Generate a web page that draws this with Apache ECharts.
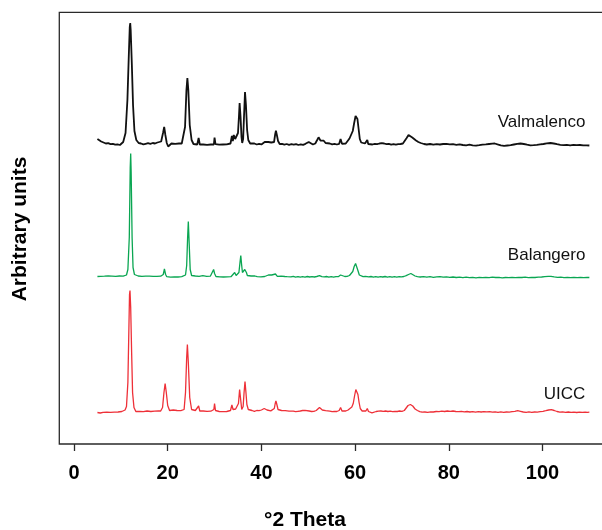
<!DOCTYPE html>
<html>
<head>
<meta charset="utf-8">
<script src="https://cdn.jsdelivr.net/npm/echarts@6.0.0/dist/echarts.min.js"></script>
<style>
html,body{margin:0;padding:0;background:#fff;overflow:hidden;}
#chart{width:602px;height:530px;}
</style>
</head>
<body>
<div id="chart"></div>
<script>
// X ticks (degrees 2-theta)
const xTicks = [0, 20, 40, 60, 80, 100];
const seriesNames = ['Valmalenco', 'Balangero', 'UICC'];

// Intensity (arbitrary units above each trace's baseline): [2theta, intensity]
const valmalenco = [
[5.0,6],[5.4,5],[5.8,3.5],[6.3,2.5],[6.8,1.5],[7.3,1.8],[7.8,0.8],[8.3,1.2],[8.8,0.3],[9.3,0.6],[9.8,0],[10.2,0.8],[10.5,3],[11.0,12],[11.4,45],[11.7,90],[11.9,118],[12.0,122],[12.1,115],[12.35,80],[12.6,40],[12.9,14],[13.3,5],[13.8,2],[14.3,1.5],[14.8,0.6],[15.3,1.2],[15.8,1.8],[16.3,1.2],[16.8,2],[17.3,1.5],[17.8,2.5],[18.2,2],[18.6,3.5],[19.0,12],[19.25,18],[19.5,10],[19.8,2],[20.1,-1.5],[20.4,0.5],[20.8,1.5],[21.2,0.5],[21.6,1.2],[22.0,0.3],[22.4,1.5],[22.8,0.8],[23.0,1.5],[23.3,3],[23.7,18],[24.0,55],[24.2,67],[24.4,55],[24.7,20],[25.1,5],[25.5,1],[25.9,1.5],[26.3,0.5],[26.6,7],[26.85,0.5],[27.2,1.8],[27.6,0.5],[28.0,1.2],[28.4,0.2],[28.8,1.5],[29.2,0.5],[29.6,1],[29.85,0.5],[30.0,7.3],[30.2,0.8],[30.6,1.5],[31.0,0.3],[31.4,1.2],[31.8,0.5],[32.2,1.5],[32.6,0.6],[33.0,1.3],[33.4,1.5],[33.7,9],[33.9,4],[34.1,10],[34.4,6],[34.7,8],[35.0,12],[35.2,28],[35.35,42],[35.55,28],[35.75,8],[35.9,2],[36.1,6],[36.3,30],[36.5,53],[36.7,40],[36.95,15],[37.2,5],[37.6,1.5],[38.0,0.8],[38.5,1.5],[39.0,0.5],[39.5,1.2],[40.0,0.6],[40.4,1.5],[40.7,3],[41.0,1.5],[41.5,3],[41.8,1.5],[42.1,2.5],[42.4,1.5],[42.7,3],[42.95,11],[43.1,14.3],[43.3,10],[43.55,4],[43.9,1],[44.4,1.2],[44.9,0.4],[45.4,1],[45.9,0.2],[46.4,0.8],[46.9,0.3],[47.4,0.9],[47.9,0],[48.4,0.6],[48.9,0.2],[49.4,1.2],[49.7,2.3],[50.1,3],[50.5,1],[51.0,0.5],[51.5,1.5],[51.9,5],[52.2,7.7],[52.6,4.5],[52.9,3.5],[53.3,4.3],[53.7,2],[54.1,1],[54.6,1.5],[55.1,0.6],[55.6,1.2],[56.1,0.5],[56.6,1.2],[56.9,6],[57.2,1.2],[57.6,1.8],[58.0,1.5],[58.4,3],[58.8,6.5],[59.1,8.5],[59.5,14],[59.8,22],[60.1,29],[60.3,30],[60.5,26],[60.75,16],[61.0,6],[61.3,2.5],[61.7,1],[62.1,1.5],[62.4,2],[62.6,5],[62.8,1],[63.2,1.5],[63.7,0.5],[64.2,1.2],[64.7,0.8],[65.2,1.5],[65.7,1.8],[66.2,1.5],[66.7,0.8],[67.2,1.2],[67.7,0.4],[68.2,0.9],[68.7,0.3],[69.2,0.8],[69.7,1],[70.2,1.5],[70.6,3],[71.0,7],[71.4,10],[71.8,9],[72.2,7.5],[72.6,6],[73.0,4.5],[73.5,3],[74.0,2],[74.7,1],[75.3,0.5],[76.0,1],[76.7,0.3],[77.4,0.9],[78.1,0.5],[78.8,1],[79.5,1.2],[80.2,0.6],[80.9,0.8],[81.6,0.2],[82.3,0.7],[83.0,0],[83.7,-0.3],[84.4,0.3],[85.1,-0.4],[85.8,-0.6],[86.5,-0.2],[87.2,0.3],[87.9,0.6],[88.6,1],[89.3,1.3],[89.8,1.5],[90.4,0.6],[91.1,-0.4],[91.8,-0.8],[92.5,-0.5],[93.2,-0.2],[93.9,0.5],[94.6,1.2],[95.3,1.5],[96.0,1],[96.7,0.3],[97.4,-0.3],[98.1,-0.1],[98.8,0.2],[99.5,0.6],[100.2,1],[100.9,1.6],[101.7,2],[102.4,1.5],[103.1,0.8],[103.8,0.2],[104.5,-0.2],[105.2,0.1],[105.9,-0.3],[106.6,0.2],[107.3,-0.2],[108.0,0],[108.7,-0.4],[109.4,-0.3],[110.0,-0.5]
];

const balangero = [
[5.0,1],[5.3,0],[5.7,1.2],[6.1,0.4],[6.5,1.3],[6.9,0.6],[7.3,1.5],[7.7,0.8],[8.1,1.4],[8.5,0.5],[8.9,1.2],[9.3,0.8],[9.7,1.5],[10.1,0.7],[10.5,1.3],[10.8,1.5],[11.2,2.5],[11.5,8],[11.8,40],[12.0,110],[12.1,124],[12.2,105],[12.4,40],[12.6,10],[12.9,3],[13.3,1],[13.7,1.5],[14.1,0.6],[14.5,1.2],[14.9,0.5],[15.3,1.3],[15.7,0.8],[16.1,1.4],[16.5,0.7],[16.9,1.2],[17.3,0.5],[17.7,1.1],[18.1,0.7],[18.5,1.3],[18.8,1],[19.05,3],[19.3,8.5],[19.55,3],[19.8,0.8],[20.2,1.3],[20.6,0.4],[21.0,1.2],[21.4,0.6],[21.8,1.5],[22.2,0.5],[22.6,1.2],[23.0,0.8],[23.4,1.5],[23.8,2.5],[24.05,12],[24.25,40],[24.4,56],[24.55,38],[24.8,8],[25.1,2],[25.5,0.8],[25.9,1.5],[26.3,0.6],[26.7,1.2],[27.1,0.5],[27.5,1.8],[27.9,0.6],[28.3,1.2],[28.7,0.4],[29.1,1.3],[29.5,3],[29.8,8],[30.0,4],[30.3,1],[30.7,1.5],[31.1,0.6],[31.5,1.2],[31.9,0.5],[32.3,1.1],[32.7,0.6],[33.1,1.3],[33.5,0.8],[33.9,2],[34.3,5],[34.6,2],[34.9,2.5],[35.2,5],[35.45,16],[35.6,22],[35.75,14],[35.95,5],[36.2,3],[36.45,8],[36.6,10],[36.8,5],[37.0,2],[37.4,1],[37.8,1.5],[38.2,0.8],[38.6,1.5],[38.8,2.2],[39.1,0.8],[39.5,1.2],[39.9,0.6],[40.3,1.3],[40.7,1],[41.1,1.5],[41.5,2.5],[41.9,4],[42.2,2.5],[42.6,2],[43.0,3.5],[43.4,1.2],[43.8,1],[44.2,1.4],[44.6,0.5],[45.0,1],[45.5,0.8],[45.9,1.6],[46.3,0.6],[46.8,1.1],[47.3,0.4],[47.8,0.9],[48.3,0.3],[48.8,0.8],[49.3,0.4],[49.8,1],[50.3,0.5],[50.8,0.9],[51.3,0.5],[51.8,1],[52.4,1.8],[52.9,0.8],[53.4,0.6],[53.9,1],[54.4,0.4],[54.9,0.8],[55.4,0.3],[55.9,0.9],[56.4,0.8],[56.9,2.5],[57.3,0.6],[57.8,1],[58.3,1.2],[58.8,2],[59.2,3.5],[59.5,6],[59.8,11],[60.1,14],[60.35,12],[60.6,7],[60.9,2.5],[61.2,1],[61.7,0.8],[62.2,1.2],[62.6,3],[62.9,0.6],[63.4,1],[63.9,0.4],[64.4,0.9],[64.9,0.3],[65.4,0.8],[65.9,0.5],[66.4,1],[66.9,0.4],[67.4,0.8],[67.9,0.3],[68.4,0.9],[68.9,0.4],[69.4,0.8],[69.9,0.6],[70.4,1],[70.9,1.8],[71.4,3],[71.9,4],[72.3,3],[72.8,1.5],[73.3,0.8],[73.9,0.5],[74.6,0.9],[75.3,0.3],[76.0,0.8],[76.7,0.2],[77.4,0.7],[78.1,0.9],[78.8,0.4],[79.5,0.6],[80.2,0.1],[80.9,0.5],[81.6,0],[82.3,0.4],[83.0,-0.1],[83.7,0.3],[84.4,-0.2],[85.1,0.2],[85.8,-0.3],[86.5,0.1],[87.2,-0.2],[87.9,0.2],[88.6,-0.1],[89.3,0.3],[90.0,0],[90.7,0.2],[91.4,-0.3],[92.1,0],[92.8,-0.2],[93.5,0.1],[94.2,-0.2],[94.9,0.2],[95.6,0],[96.3,0.3],[97.0,-0.1],[97.7,0.2],[98.4,0],[99.1,0.3],[99.8,0.5],[100.5,0.8],[101.2,1.1],[101.8,1.2],[102.5,0.6],[103.2,0.2],[103.9,0.4],[104.6,-0.1],[105.3,0.2],[106.0,-0.2],[106.7,0.1],[107.4,-0.1],[108.1,0.2],[108.8,-0.1],[109.5,0.1],[110.0,0]
];

const uicc = [
[5.0,0],[5.3,1],[5.6,-0.5],[5.9,0.8],[6.2,0.2],[6.6,1],[7.0,0.3],[7.4,0.8],[7.8,0.2],[8.2,1],[8.6,0.4],[9.0,0.8],[9.4,0.5],[9.8,1.2],[10.2,1],[10.6,1.5],[10.9,2.5],[11.2,6],[11.5,30],[11.7,80],[11.85,118],[11.95,122],[12.1,105],[12.3,60],[12.5,20],[12.8,5],[13.2,1],[13.6,0.5],[14.0,1],[14.4,0.3],[14.8,0.9],[15.2,0.5],[15.6,1.5],[16.0,0.5],[16.4,1],[16.8,0.4],[17.2,1.3],[17.6,0.8],[18.0,1.5],[18.2,3],[18.5,1.5],[18.9,5],[19.2,20],[19.45,29],[19.7,20],[20.0,7],[20.4,2],[20.8,1.5],[21.2,2.5],[21.6,1.2],[22.0,2],[22.4,1.5],[22.8,1.8],[23.2,1.5],[23.5,3],[23.8,20],[24.05,55],[24.2,68],[24.4,50],[24.7,15],[25.1,3],[25.5,1.5],[25.9,2],[26.3,1],[26.6,6.5],[26.85,1.5],[27.2,2.5],[27.6,1.5],[28.0,2],[28.4,1.2],[28.8,1.8],[29.2,1.3],[29.6,1.8],[29.85,3],[30.0,9],[30.2,2],[30.6,1.5],[31.0,1],[31.4,1.6],[31.8,0.8],[32.2,1.4],[32.6,1],[33.0,1.6],[33.4,2],[33.7,7.5],[33.95,3],[34.2,5],[34.5,3.5],[34.8,4],[35.1,9],[35.35,23],[35.55,14],[35.8,3],[36.1,6],[36.3,20],[36.5,31],[36.7,20],[36.9,8],[37.2,3],[37.6,1.5],[38.0,2],[38.5,1.2],[39.0,2],[39.5,1.8],[40.0,2.5],[40.3,3],[40.6,4],[40.9,3],[41.2,2.5],[41.6,2],[42.0,1.6],[42.4,2],[42.75,4],[42.95,9],[43.1,11.5],[43.3,8],[43.55,3],[43.9,1.5],[44.3,2],[44.7,1.2],[45.1,1.8],[45.5,1],[45.9,1.4],[46.3,0.8],[46.8,1.3],[47.3,0.8],[47.8,1.2],[48.3,1.5],[48.8,2],[49.3,2.2],[49.7,2],[50.2,1.5],[50.7,1],[51.2,1.2],[51.7,2],[52.1,4],[52.4,5],[52.7,3],[53.0,2.5],[53.3,3],[53.7,1.8],[54.1,1],[54.6,1.3],[55.1,0.8],[55.6,1.2],[56.1,1],[56.6,2],[56.9,5],[57.2,1.5],[57.6,1.2],[58.0,1.5],[58.5,2.5],[58.9,4],[59.3,5.5],[59.6,9],[59.9,17],[60.15,23],[60.35,24],[60.6,18],[60.85,10],[61.1,4],[61.5,1.5],[61.9,1],[62.3,1.5],[62.6,4],[62.85,1],[63.2,0.3],[63.6,-0.3],[64.0,0.5],[64.5,1],[65.0,1.3],[65.5,1.5],[66.0,1.2],[66.5,1.5],[67.0,1],[67.5,1.3],[68.0,0.8],[68.5,1.2],[69.0,1],[69.5,1.5],[70.0,1.2],[70.5,2],[70.9,4],[71.3,7],[71.8,8],[72.3,6.5],[72.8,3.5],[73.3,2],[73.8,0.8],[74.3,0.3],[74.9,0.5],[75.5,0.2],[76.1,0.7],[76.7,0.5],[77.3,1],[77.9,0.8],[78.5,1.3],[79.1,1],[79.7,1.5],[80.3,1.2],[80.9,1.5],[81.5,1],[82.1,0.8],[82.7,1.2],[83.3,0.6],[83.9,1],[84.5,0.5],[85.1,0.9],[85.7,0.4],[86.3,0.8],[86.9,0.5],[87.5,0.9],[88.1,0.6],[88.7,0.8],[89.3,0.4],[89.9,0.7],[90.5,0.2],[91.1,0.6],[91.7,0.1],[92.3,0.5],[92.9,0.3],[93.5,0.8],[94.1,1.2],[94.7,1.8],[95.3,1.2],[95.9,0.5],[96.5,0.2],[97.1,0.6],[97.7,0.2],[98.3,0.5],[98.9,0.3],[99.5,0.8],[100.1,1.2],[100.7,1.8],[101.3,2.5],[101.9,2.8],[102.5,2],[103.1,1],[103.7,0.4],[104.3,0.7],[104.9,0.2],[105.5,0.5],[106.1,0.1],[106.7,0.4],[107.3,0],[107.9,0.3],[108.5,0.1],[109.1,0.4],[109.6,0.2],[110.0,0.3]
];

// Vertical offsets of the stacked patterns (arbitrary units)
const offsets = [299, 166.5, 31.5];
const colors = ['#111111', '#0aa652', '#ee3038'];
const widths = [1.8, 1.3, 1.3];

const FONT = "'Liberation Sans', Arial, Helvetica, sans-serif";
const chart = echarts.init(document.getElementById('chart'), null, {renderer: 'canvas'});

const datasets = [valmalenco, balangero, uicc];
const series = datasets.map((d, i) => ({
  name: seriesNames[i],
  type: 'line',
  data: d.map(p => [p[0], p[1] + offsets[i]]),
  symbol: 'none',
  smooth: false,
  lineStyle: {color: colors[i], width: widths[i]},
  itemStyle: {color: colors[i]},
  endLabel: {
    show: true,
    formatter: seriesNames[i],
    color: '#111',
    fontFamily: FONT,
    fontSize: 17,
    align: 'right',
    offset: [-12, [-23, -22, -18][i]]
  },
  animation: false
}));

chart.setOption({
  animation: false,
  backgroundColor: '#ffffff',
  grid: {
    left: 59.3, top: 12.3, width: 560, height: 431.7,
    outerBoundsMode: 'none', containLabel: false,
    show: true, borderColor: '#2a2a2a', borderWidth: 1.3, backgroundColor: 'transparent'
  },
  xAxis: {
    type: 'value',
    min: -3.138, max: 116.39,
    axisLine: {show: false},
    splitLine: {show: false},
    axisTick: {show: true, inside: false, length: 7, customValues: xTicks,
      lineStyle: {color: '#2a2a2a', width: 1.3}},
    axisLabel: {show: true, customValues: xTicks, margin: 19,
      color: '#000', fontFamily: FONT, fontSize: 20, fontWeight: 'bold'}
  },
  yAxis: {
    type: 'value', min: 0, max: 431.7,
    show: false
  },
  graphic: [
    {type: 'text', x: 305, y: 520,
      style: {text: '°2 Theta', x: 0, y: 0, align: 'center', verticalAlign: 'middle',
        font: "bold 21px " + FONT, fill: '#000'}},
    {type: 'text', x: 20, y: 229, rotation: Math.PI / 2,
      style: {text: 'Arbitrary units', x: 0, y: 0, align: 'center', verticalAlign: 'middle',
        font: "bold 21px " + FONT, fill: '#000'}}
  ],
  series: series
});
</script>
</body>
</html>
